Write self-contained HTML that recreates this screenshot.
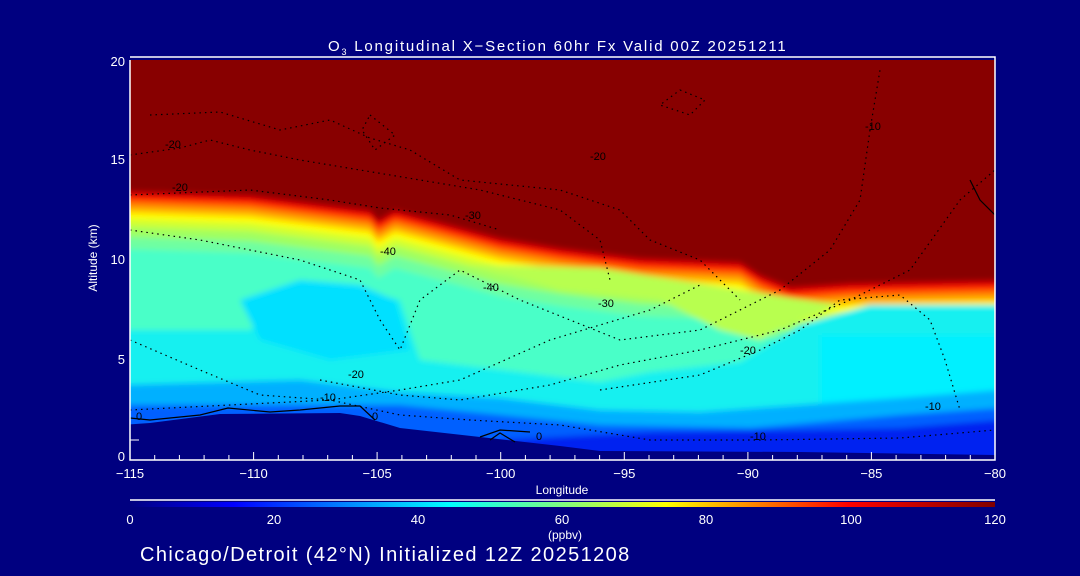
<!DOCTYPE html>
<html><head><meta charset="utf-8"><style>
html,body{margin:0;padding:0;background:#000080;}
svg{display:block;}
text{font-family:"Liberation Sans",sans-serif;fill:#fff;}
</style></head><body>
<svg width="1080" height="576" viewBox="0 0 1080 576" xmlns="http://www.w3.org/2000/svg">
<defs>
<clipPath id="pc"><rect x="130" y="60" width="865" height="400"/></clipPath>
<filter id="bl" x="-5%" y="-5%" width="110%" height="110%"><feGaussianBlur stdDeviation="3"/></filter>
<path id="T" d="M100,190 L250,195 L330,205 L370,210 L378,220 L395,210 L440,222 L500,238 L560,248 L640,258 L740,262 L760,275 L790,287 L850,283 L1000,280 L1000,470 L100,470 Z"/>
<linearGradient id="cb" x1="0" x2="1" y1="0" y2="0">
<stop offset="0" stop-color="#000080"/><stop offset="0.12" stop-color="#0000ff"/>
<stop offset="0.37" stop-color="#00ffff"/><stop offset="0.5" stop-color="#80ff80"/>
<stop offset="0.62" stop-color="#ffff00"/><stop offset="0.83" stop-color="#ff0000"/>
<stop offset="1" stop-color="#800000"/></linearGradient>
</defs>
<g clip-path="url(#pc)">
<g filter="url(#bl)">
<rect x="120" y="50" width="890" height="420" fill="#880000"/>
<use href="#T" fill="#c00000"/>
<use href="#T" fill="#ff1000" transform="translate(0,4)"/>
<use href="#T" fill="#ff5000" transform="translate(0,8)"/>
<use href="#T" fill="#ff8c00" transform="translate(0,12)"/>
<use href="#T" fill="#ffc000" transform="translate(0,17)"/>
<use href="#T" fill="#ffff00" transform="translate(0,22)"/>
<use href="#T" fill="#d0ff30" transform="translate(0,28)"/>
<use href="#T" fill="#a0ff60" transform="translate(0,36)"/>
<use href="#T" fill="#70ffa0" transform="translate(0,46)"/>
<use href="#T" fill="#48ffc8" transform="translate(0,58)"/>
<path d="M470,265 L560,290 L660,300 L720,330 L760,340 L800,320 L840,305 L740,290 L600,268 Z" fill="#b8ff50"/>
<path d="M120,330 L250,330 L300,285 L360,290 L400,300 L420,360 L520,372 L600,382 L650,372 L740,362 L800,325 L870,305 L1000,305 L1000,470 L120,470 Z" fill="#18f0f0"/>
<path d="M240,300 L300,280 L360,285 L395,300 L410,350 L330,360 L260,340 Z" fill="#00e0ff"/>
<path d="M820,335 L1000,335 L1000,470 L820,470 Z" fill="#00f0ff"/>
<path d="M120,385 L300,380 L400,392 L500,398 L600,410 L700,412 L800,405 L900,398 L1000,390 L1000,470 L120,470 Z" fill="#00b0ff"/>
<path d="M120,405 L400,405 L600,425 L750,428 L900,415 L1000,408 L1000,470 L120,470 Z" fill="#0060ff"/>
<path d="M500,440 L650,432 L800,430 L900,428 L1000,420 L1000,470 L500,470 Z" fill="#0020f0"/>
</g>
<path d="M120,425 L150,423 L220,414 L340,413 L360,416 L400,428 L480,437 L560,446 L600,451 L800,452 L995,455 L1000,470 L120,470 Z" fill="#000080"/>
<g fill="none" stroke="#000" stroke-width="1.2" stroke-dasharray="1.5,4">
<path d="M130,155 L180,148 L210,140 L250,150 L300,160 L360,170 L420,180 L480,190 L560,210 L600,240 L610,280"/>
<path d="M130,195 L250,190 L330,200 L380,208 L450,215 L500,230"/>
<path d="M150,115 L220,112 L280,130 L330,120 L370,138 L410,150 L460,180 L560,190 L620,210 L650,240 L700,260 L740,300"/>
<path d="M130,230 L200,240 L300,260 L360,280 L380,320 L400,350 L420,300 L460,270 L520,300 L570,320 L620,340 L700,330 L780,290 L830,250 L860,200 L870,130 L880,70"/>
<path d="M130,340 L200,370 L260,395 L330,400 L400,390 L460,380 L550,340 L650,310 L700,285"/>
<path d="M320,380 L400,395 L460,400 L550,385 L620,365 L700,350 L780,330 L850,300 L910,270 L960,200 L995,170"/>
<path d="M600,390 L700,375 L760,350 L800,330 L840,300 L900,295 L930,320 L945,360 L960,410"/>
<path d="M130,410 L330,400 L400,415 L470,420 L560,425 L650,440 L760,440 L900,438 L995,430"/>
<path d="M680,90 L705,100 L690,115 L660,105 Z"/>
<path d="M370,115 L395,135 L375,150 L362,130 Z"/>
</g>
<g fill="none" stroke="#000" stroke-width="1.2">
<path d="M130,418 L150,420 L200,415 L228,408 L270,412 L300,410 L340,406 L360,406 L375,420"/>
<path d="M490,440 L500,433 L515,442"/>
<path d="M480,437 L500,430 L530,432"/>
<path d="M970,180 L980,200 L995,215"/>
</g>
<g font-size="11">
<text x="165" y="148" style="fill:#000">-20</text>
<text x="172" y="191" style="fill:#000">-20</text>
<text x="465" y="219" style="fill:#000">-30</text>
<text x="380" y="255" style="fill:#000">-40</text>
<text x="483" y="291" style="fill:#000">-40</text>
<text x="598" y="307" style="fill:#000">-30</text>
<text x="590" y="160" style="fill:#000">-20</text>
<text x="740" y="354" style="fill:#000">-20</text>
<text x="348" y="378" style="fill:#000">-20</text>
<text x="320" y="401" style="fill:#000">-10</text>
<text x="750" y="440" style="fill:#000">-10</text>
<text x="136" y="420" style="fill:#000">0</text>
<text x="372" y="420" style="fill:#000">0</text>
<text x="536" y="440" style="fill:#000">0</text>
<text x="865" y="130" style="fill:#000">-10</text>
<text x="925" y="410" style="fill:#000">-10</text>
</g>
</g>
<g stroke="#fff" stroke-width="1.5" fill="none">
<path d="M130,57 L995,57 L995,460 L130,460 L130,60"/>
</g>
<g stroke="#fff" stroke-width="1">
<path d="M130,460 v-8 M253.6,460 v-8 M377.1,460 v-8 M500.7,460 v-8 M624.3,460 v-8 M747.9,460 v-8 M871.4,460 v-8"/>
<path d="M154.7,460 v-5 M179.4,460 v-5 M204.1,460 v-5 M228.9,460 v-5 M278.3,460 v-5 M303,460 v-5 M327.7,460 v-5 M352.4,460 v-5 M401.9,460 v-5 M426.6,460 v-5 M451.3,460 v-5 M476,460 v-5 M525.4,460 v-5 M550.1,460 v-5 M574.9,460 v-5 M599.6,460 v-5 M649,460 v-5 M673.7,460 v-5 M698.4,460 v-5 M723.1,460 v-5 M772.6,460 v-5 M797.3,460 v-5 M822,460 v-5 M846.7,460 v-5 M896.1,460 v-5 M920.9,460 v-5 M945.6,460 v-5 M970.3,460 v-5"/>
<path d="M130,440 h9"/>
</g>
<g font-size="13" text-anchor="end">
<text x="125" y="461">0</text><text x="125" y="364">5</text><text x="125" y="264">10</text><text x="125" y="164">15</text><text x="125" y="66">20</text>
</g>
<g font-size="13" text-anchor="middle">
<text x="130" y="478">−115</text><text x="253.6" y="478">−110</text><text x="377.1" y="478">−105</text><text x="500.7" y="478">−100</text><text x="624.3" y="478">−95</text><text x="747.9" y="478">−90</text><text x="871.4" y="478">−85</text><text x="995" y="478">−80</text>
<text x="562" y="494" font-size="12">Longitude</text>
</g>
<text x="328" y="51" font-size="15" letter-spacing="1.8">O<tspan font-size="9" dy="4">3</tspan><tspan dy="-4"> Longitudinal X−Section 60hr  Fx Valid 00Z 20251211</tspan></text>
<text transform="translate(97,258) rotate(-90)" font-size="12" text-anchor="middle">Altitude (km)</text>
<line x1="130" y1="500" x2="995" y2="500" stroke="#fff" stroke-width="1.5"/>
<rect x="130" y="502" width="865" height="5" fill="url(#cb)"/>
<g font-size="13" text-anchor="middle">
<text x="130" y="524">0</text><text x="274" y="524">20</text><text x="418" y="524">40</text><text x="562" y="524">60</text><text x="706" y="524">80</text><text x="851" y="524">100</text><text x="995" y="524">120</text>
<text x="565" y="539" font-size="12">(ppbv)</text>
</g>
<text x="140" y="561" font-size="20" letter-spacing="1.4">Chicago/Detroit (42°N) Initialized 12Z 20251208</text>
</svg>
</body></html>
